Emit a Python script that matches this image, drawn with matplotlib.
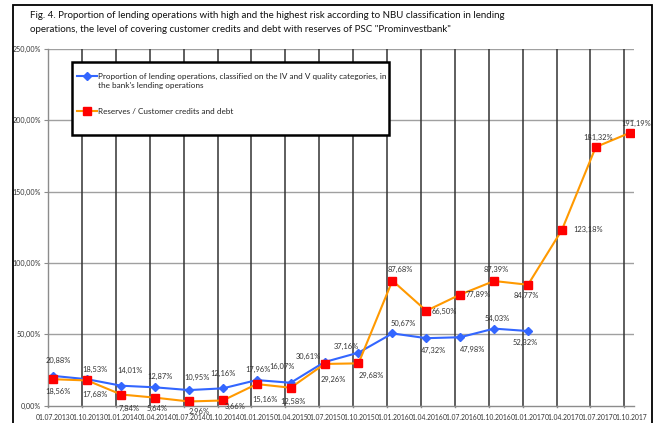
import matplotlib
matplotlib.use("Agg")
import matplotlib.pyplot as plt
from matplotlib.lines import Line2D
from matplotlib.patches import Rectangle

plt.rcParams['font.family'] = ['Lato', 'DejaVu Sans']

# ---------------- data ----------------
dates = ["01.07.2013", "01.10.2013", "01.01.2014", "01.04.2014", "01.07.2014",
         "01.10.2014", "01.01.2015", "01.04.2015", "01.07.2015", "01.10.2015",
         "01.01.2016", "01.04.2016", "01.07.2016", "01.10.2016", "01.01.2017",
         "01.04.2017", "01.07.2017", "01.10.2017"]
share_iv_v = [20.88, 18.53, 14.01, 12.87, 10.95, 12.16, 17.96, 16.07, 30.61,
              37.16, 50.67, 47.32, 47.98, 54.03, 52.32]
reserves_ratio = [18.56, 17.68, 7.84, 5.64, 2.96, 3.66, 15.16, 12.58, 29.26,
                  29.68, 87.68, 66.50, 77.89, 87.39, 84.77, 123.18, 181.32, 191.19]
y_ticks = [0, 50, 100, 150, 200, 250]
series_names = ["Proportion of lending operations, classified on the IV and V quality categories, in\nthe bank's lending operations",
                "Reserves / Customer credits and debt"]
title = ('Fig. 4. Proportion of lending operations with high and the highest risk according to NBU classification in lending\n'
         'operations, the level of covering customer credits and debt with reserves of PSC "Prominvestbank"')

# label offsets (pixels) - layout only
blue_off = [(4.6, 15.2), (7.7, 9.3), (9.3, 15.7), (5, 10.6), (7.7, 12.8), (0, 15),
            (1.3, 10.8), (-9, 16.1), (-16.6, 5.7), (-12.2, 6), (10.6, 10.1),
            (7, -11.8), (12.1, -12.1), (3.3, 9.9), (-2.3, -11.3)]
orange_off = [(4.9, -12.5), (7.4, -14.2), (7.6, -13.8), (1.6, -10.6), (10.2, -10.2),
              (12.3, -6.2), (8.2, -14.9), (2.1, -14), (8.4, -15.3), (13.2, -11.9),
              (8.1, 11.3), (17.9, -0.5), (18.1, -0.4), (2.2, 11.7), (-1.8, -10.6),
              (26.3, 0), (2.4, 9.7), (6.6, 9.6)]

W, H = 658, 423
fig = plt.figure(figsize=(W / 100, H / 100), dpi=100)
fig.patch.set_facecolor("white")

# outer frame
fig.add_artist(Rectangle((12.7 / W, -0.05), (651.7 - 12.7) / W, 1.05 - 5 / H,
                         transform=fig.transFigure, fill=False, edgecolor="black", lw=1.3))

L, R, T, B = 48, 634, 49, 405.7
ax = fig.add_axes([L / W, 1 - B / H, (R - L) / W, (B - T) / H])
x0 = -0.159
ax.set_xlim(x0, 17.127)
ax.set_ylim(0, 250)

for s in ["top", "right"]:
    ax.spines[s].set_visible(False)
ax.spines["left"].set_color("#8c8c8c")
ax.spines["bottom"].set_color("#8c8c8c")
ax.spines["left"].set_linewidth(1.0)
ax.spines["bottom"].set_linewidth(1.0)

ax.set_yticks(y_ticks)
ax.set_yticklabels([f"{v:.2f}".replace(".", ",") + "%" for v in y_ticks], fontsize=5.1, color="#333333")
for v in y_ticks[1:]:
    ax.axhline(v, color="#a0a0a0", lw=1.0, zorder=1)

xs = list(range(len(dates)))
ax.set_xticks(xs)
ax.set_xticklabels(dates, fontsize=4.85, color="#333333")
ax.tick_params(axis="x", length=0, pad=6)
ax.tick_params(axis="y", length=3, color="#8c8c8c", pad=2)

# vertical separator lines and small ticks
for i in range(1, len(dates)):
    ax.axvline(i + x0, color="#333333", lw=1.1, zorder=1)
for i in range(len(dates)):
    ax.plot([i + x0, i + x0], [0, -1.2], color="#8c8c8c", lw=1.0, clip_on=False)

# series
bx = xs[:len(share_iv_v)]
ax.plot(bx, share_iv_v, color="#3366ff", lw=1.5, marker="D", markersize=4,
        markerfacecolor="#3366ff", markeredgecolor="#3366ff", zorder=4)
ax.plot(xs, reserves_ratio, color="#ff9900", lw=1.5, marker="s", markersize=5.5,
        markerfacecolor="#ff0000", markeredgecolor="#ff0000", zorder=5)

def fmt(v):
    return f"{v:.2f}".replace(".", ",") + "%"

for x, v, (dx, dy) in zip(bx, share_iv_v, blue_off):
    ax.annotate(fmt(v), (x, v), xytext=(dx, dy), textcoords="offset pixels",
                ha="center", va="center", fontsize=5.4, color="#333333", zorder=6)
for x, v, (dx, dy) in zip(xs, reserves_ratio, orange_off):
    ax.annotate(fmt(v), (x, v), xytext=(dx, dy), textcoords="offset pixels",
                ha="center", va="center", fontsize=5.4, color="#333333", zorder=6)

# title
fig.text(30 / W, 1 - 22.5 / H, title, fontsize=7.0, ha="left", va="center",
         linespacing=1.7, color="#111111")

# legend box
lx0, ly0, lx1, ly1 = 72, 62, 389, 135
fig.add_artist(Rectangle((lx0 / W, 1 - ly1 / H), (lx1 - lx0) / W, (ly1 - ly0) / H,
                         transform=fig.transFigure, facecolor="white", edgecolor="black",
                         lw=1.8, zorder=10))
def fy(y):
    return 1 - y / H
fig.add_artist(Line2D([77 / W, 97 / W], [fy(76), fy(76)], color="#3366ff", lw=1.5,
                      transform=fig.transFigure, zorder=11))
fig.add_artist(Line2D([87 / W], [fy(76)], color="#3366ff", marker="D", markersize=4,
                      transform=fig.transFigure, zorder=12))
fig.add_artist(Line2D([77 / W, 97 / W], [fy(111), fy(111)], color="#ff9900", lw=1.5,
                      transform=fig.transFigure, zorder=11))
fig.add_artist(Line2D([87 / W], [fy(111)], color="#ff0000", marker="s", markersize=5.5,
                      transform=fig.transFigure, zorder=12))
fig.text(98 / W, fy(81), series_names[0], fontsize=5.85, ha="left", va="center",
         linespacing=1.45, color="#222222", zorder=13)
fig.text(98 / W, fy(111), series_names[1], fontsize=5.85, ha="left", va="center",
         color="#222222", zorder=13)

fig.savefig("out.png", dpi=100)
